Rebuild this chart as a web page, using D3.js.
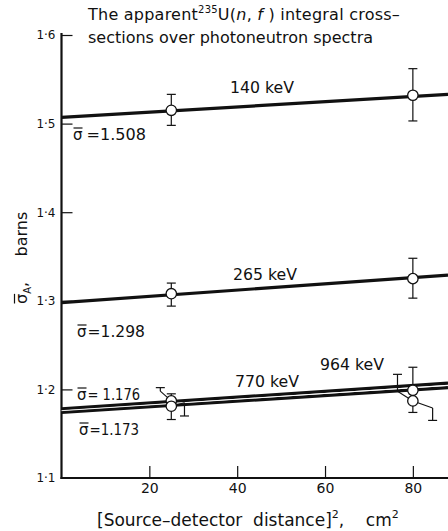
<!DOCTYPE html>
<html lang="en">
<meta charset="utf-8">
<title>235U(n,f) integral cross-sections</title>
<style>
  body { margin: 0; background: #fff; }
  text { font-family: "DejaVu Sans", "Liberation Sans", sans-serif; fill: #111; white-space: pre; }
</style>
<body>
<svg id="canvas"></svg>
<script src="https://cdn.jsdelivr.net/npm/d3@7"></script>
<script>

    ////////////////////// data ///////////////////////
    var seriesNames  = ["140 keV", "265 keV", "770 keV", "964 keV"];
    var sigmaBars    = ["1.508", "1.298", "1.176", "1.173"];
    // fitted line: value at x = 0 and at x = 88 cm^2
    var lineStart    = [1.507, 1.298, 1.178, 1.174];
    var lineEnd      = [1.533, 1.329, 1.207, 1.202];
    // measured points
    var pointX       = [25, 80];
    var pointValues  = [[1.515, 1.532], [1.308, 1.325], [1.187, 1.199], [1.181, 1.187]];
    var errTop       = [[1.533, 1.562], [1.320, 1.348], [1.195, 1.225], [1.181, 1.187]];
    var errBottom    = [[1.498, 1.503], [1.294, 1.303], [1.187, 1.199], [1.166, 1.174]];
    // displaced error bars with leaders
    var dispX        = [22.5, 28, 76.5, 84.5];
    var dispTip      = [1.202, 1.170, 1.217, 1.165];
    var dispBase     = [1.198, 1.185, 1.198, 1.179];
    var dispPointX   = [25, 25, 80, 80];
    var dispSeries   = [2, 3, 3, 3];
    var xTicks       = [20, 40, 60, 80];
    var yTicks       = [1.1, 1.2, 1.3, 1.4, 1.5, 1.6];
    ///////////////////////////////////////////////////

    ////////////////// layout /////////////////////////
    var W = 448, H = 531;
    var x_left = 61.5, x_right = 448;
    var y_top = 35, y_bot = 478;
    var font = "DejaVu Sans, Liberation Sans, sans-serif";
    ///////////////////////////////////////////////////

    var svg = d3.select("#canvas")
        .attr("width", W)
        .attr("height", H);

    var x = d3.scaleLinear().domain([0, 88]).range([x_left, x_right]);
    var y = d3.scaleLinear().domain([1.1, 1.6]).range([y_bot, y_top]);

    ////////////////// axes ///////////////////////////
    var yAxis = svg.append("g")
        .attr("transform", "translate(" + x_left + ",0)")
        .call(d3.axisLeft(y).tickValues(yTicks).tickSize(-11).tickPadding(6)
              .tickFormat(function (d) { return d3.format(".1f")(d).replace(".", "\u00b7"); }));
    yAxis.select(".domain").remove();
    yAxis.selectAll(".tick line").attr("stroke", "#111").attr("stroke-width", 1.2);
    yAxis.selectAll(".tick text")
        .attr("font-size", 12).attr("fill", "#333")
        .attr("font-family", font);
    yAxis.selectAll(".tick").filter(function (d) { return d === 1.1; }).select("line").remove();

    var xAxis = svg.append("g")
        .attr("transform", "translate(0," + y_bot + ")")
        .call(d3.axisBottom(x).tickValues(xTicks).tickSize(-12).tickPadding(5));
    xAxis.select(".domain").remove();
    xAxis.selectAll(".tick line").attr("stroke", "#111").attr("stroke-width", 1.2);
    xAxis.selectAll(".tick text")
        .attr("font-size", 14)
        .attr("font-family", font);

    svg.append("line")
        .attr("x1", x_left).attr("x2", x_left)
        .attr("y1", y_top - 2).attr("y2", y_bot + 1)
        .attr("stroke", "#111").attr("stroke-width", 2.2);
    svg.append("line")
        .attr("x1", x_left - 1).attr("x2", x_right)
        .attr("y1", y_bot).attr("y2", y_bot)
        .attr("stroke", "#111").attr("stroke-width", 2);

    ////////////////// fitted lines ///////////////////
    seriesNames.forEach(function (name, i) {
        svg.append("line")
            .attr("x1", x(0)).attr("y1", y(lineStart[i]))
            .attr("x2", x(88)).attr("y2", y(lineEnd[i]))
            .attr("stroke", "#111").attr("stroke-width", 3.2);
    });
    // thin white gap between the two close lines
    svg.append("line")
        .attr("x1", x(0)).attr("y1", (y(lineStart[2]) + y(lineStart[3])) / 2)
        .attr("x2", x(88)).attr("y2", (y(lineEnd[2]) + y(lineEnd[3])) / 2)
        .attr("stroke", "#fff").attr("stroke-width", 0.9);

    ////////////////// error bars /////////////////////
    var cap = 4.5;
    function vbar(px, v1, v2, capAt) {
        svg.append("line")
            .attr("x1", x(px)).attr("x2", x(px))
            .attr("y1", y(v1)).attr("y2", y(v2))
            .attr("stroke", "#111").attr("stroke-width", 1.2);
        capAt.forEach(function (v) {
            svg.append("line")
                .attr("x1", x(px) - cap).attr("x2", x(px) + cap)
                .attr("y1", y(v)).attr("y2", y(v))
                .attr("stroke", "#111").attr("stroke-width", 1.2);
        });
    }

    pointValues.forEach(function (vals, i) {
        vals.forEach(function (v, j) {
            var caps = [];
            if (errTop[i][j] > v) caps.push(errTop[i][j]);
            if (errBottom[i][j] < v) caps.push(errBottom[i][j]);
            if (caps.length) vbar(pointX[j], errBottom[i][j], errTop[i][j], caps);
        });
    });

    dispX.forEach(function (dx, k) {
        vbar(dx, dispBase[k], dispTip[k], [dispTip[k]]);
        var j = pointX.indexOf(dispPointX[k]);
        svg.append("line")
            .attr("x1", x(dx)).attr("y1", y(dispBase[k]))
            .attr("x2", x(dispPointX[k])).attr("y2", y(pointValues[dispSeries[k]][j]))
            .attr("stroke", "#111").attr("stroke-width", 1.1);
    });

    ////////////////// points /////////////////////////
    pointValues.forEach(function (vals, i) {
        svg.selectAll(null)
            .data(vals)
            .enter().append("circle")
            .attr("cx", function (d, j) { return x(pointX[j]); })
            .attr("cy", function (d) { return y(d); })
            .attr("r", 5.2)
            .attr("fill", "#fff")
            .attr("stroke", "#111")
            .attr("stroke-width", 1.3);
    });

    ////////////////// labels /////////////////////////
    var nameXY  = [[230, 93], [233, 280], [235, 387], [320, 370]];
    var sigmaXY = [[73, 140], [77, 337], [77, 400], [79, 435]];
    var sigmaW  = [73, 68, 63, 60];

    seriesNames.forEach(function (name, i) {
        svg.append("text")
            .attr("x", nameXY[i][0]).attr("y", nameXY[i][1])
            .attr("font-size", 15)
            .attr("textLength", 64).attr("lengthAdjust", "spacingAndGlyphs")
            .text(name);

        var g = svg.append("g").attr("transform", "translate(" + sigmaXY[i][0] + "," + sigmaXY[i][1] + ")");
        var s = g.append("text").attr("font-size", 15).text("\u03c3");
        var sw = s.node().getComputedTextLength();
        g.append("line")
            .attr("x1", 0.5).attr("x2", sw)
            .attr("y1", -12).attr("y2", -12)
            .attr("stroke", "#111").attr("stroke-width", 1.2);
        var gap = (i === 0 ? 4 : 1);
        g.append("text")
            .attr("x", sw + gap)
            .attr("font-size", 15)
            .attr("textLength", sigmaW[i] - sw - gap).attr("lengthAdjust", "spacingAndGlyphs")
            .text("=" + (i === 2 ? " " : "") + sigmaBars[i]);
    });

    ////////////////// title //////////////////////////
    var t1 = svg.append("text").attr("x", 88).attr("y", 20).attr("font-size", 16);
    t1.append("tspan").text("The apparent");
    t1.append("tspan").attr("dy", -7).attr("font-size", 10).text("235");
    t1.append("tspan").attr("dy", 7).text("U(");
    t1.append("tspan").attr("font-style", "italic").text("n");
    t1.append("tspan").text(", ");
    t1.append("tspan").attr("font-style", "italic").text("f");
    t1.append("tspan").text(" ) integral cross\u2013");
    // stretch the first title line to its width in the figure
    var t1len = t1.node().getComputedTextLength();
    var t1chars = t1.text().length;
    t1.attr("letter-spacing", (312 - t1len) / t1chars);

    svg.append("text")
        .attr("x", 88).attr("y", 43)
        .attr("font-size", 16)
        .attr("textLength", 285)
        .attr("lengthAdjust", "spacing")
        .text("sections over photoneutron spectra");

    ////////////////// axis titles ////////////////////
    var xl = svg.append("text")
        .attr("x", 97).attr("y", 526)
        .attr("font-size", 17);
    xl.append("tspan").text("[Source\u2013detector  distance]");
    xl.append("tspan").attr("dy", -8).attr("font-size", 11).text("2");
    xl.append("tspan").attr("dy", 8).text(",    cm");
    xl.append("tspan").attr("dy", -8).attr("font-size", 11).text("2");

    var yl = svg.append("text")
        .attr("transform", "translate(27,304) rotate(-90)")
        .attr("font-size", 16);
    yl.append("tspan").text("\u03c3");
    yl.append("tspan").attr("font-size", 10).attr("dy", 4).text("A");
    yl.append("tspan").attr("dy", -4).text(",     barns");
    // overline for sigma in the axis label
    var ywid = yl.select("tspan").node().getComputedTextLength();
    svg.append("line")
        .attr("transform", "translate(27,304) rotate(-90)")
        .attr("x1", 0.5).attr("x2", ywid)
        .attr("y1", -12.5).attr("y2", -12.5)
        .attr("stroke", "#111").attr("stroke-width", 1.2);

</script>
</body>
</html>
